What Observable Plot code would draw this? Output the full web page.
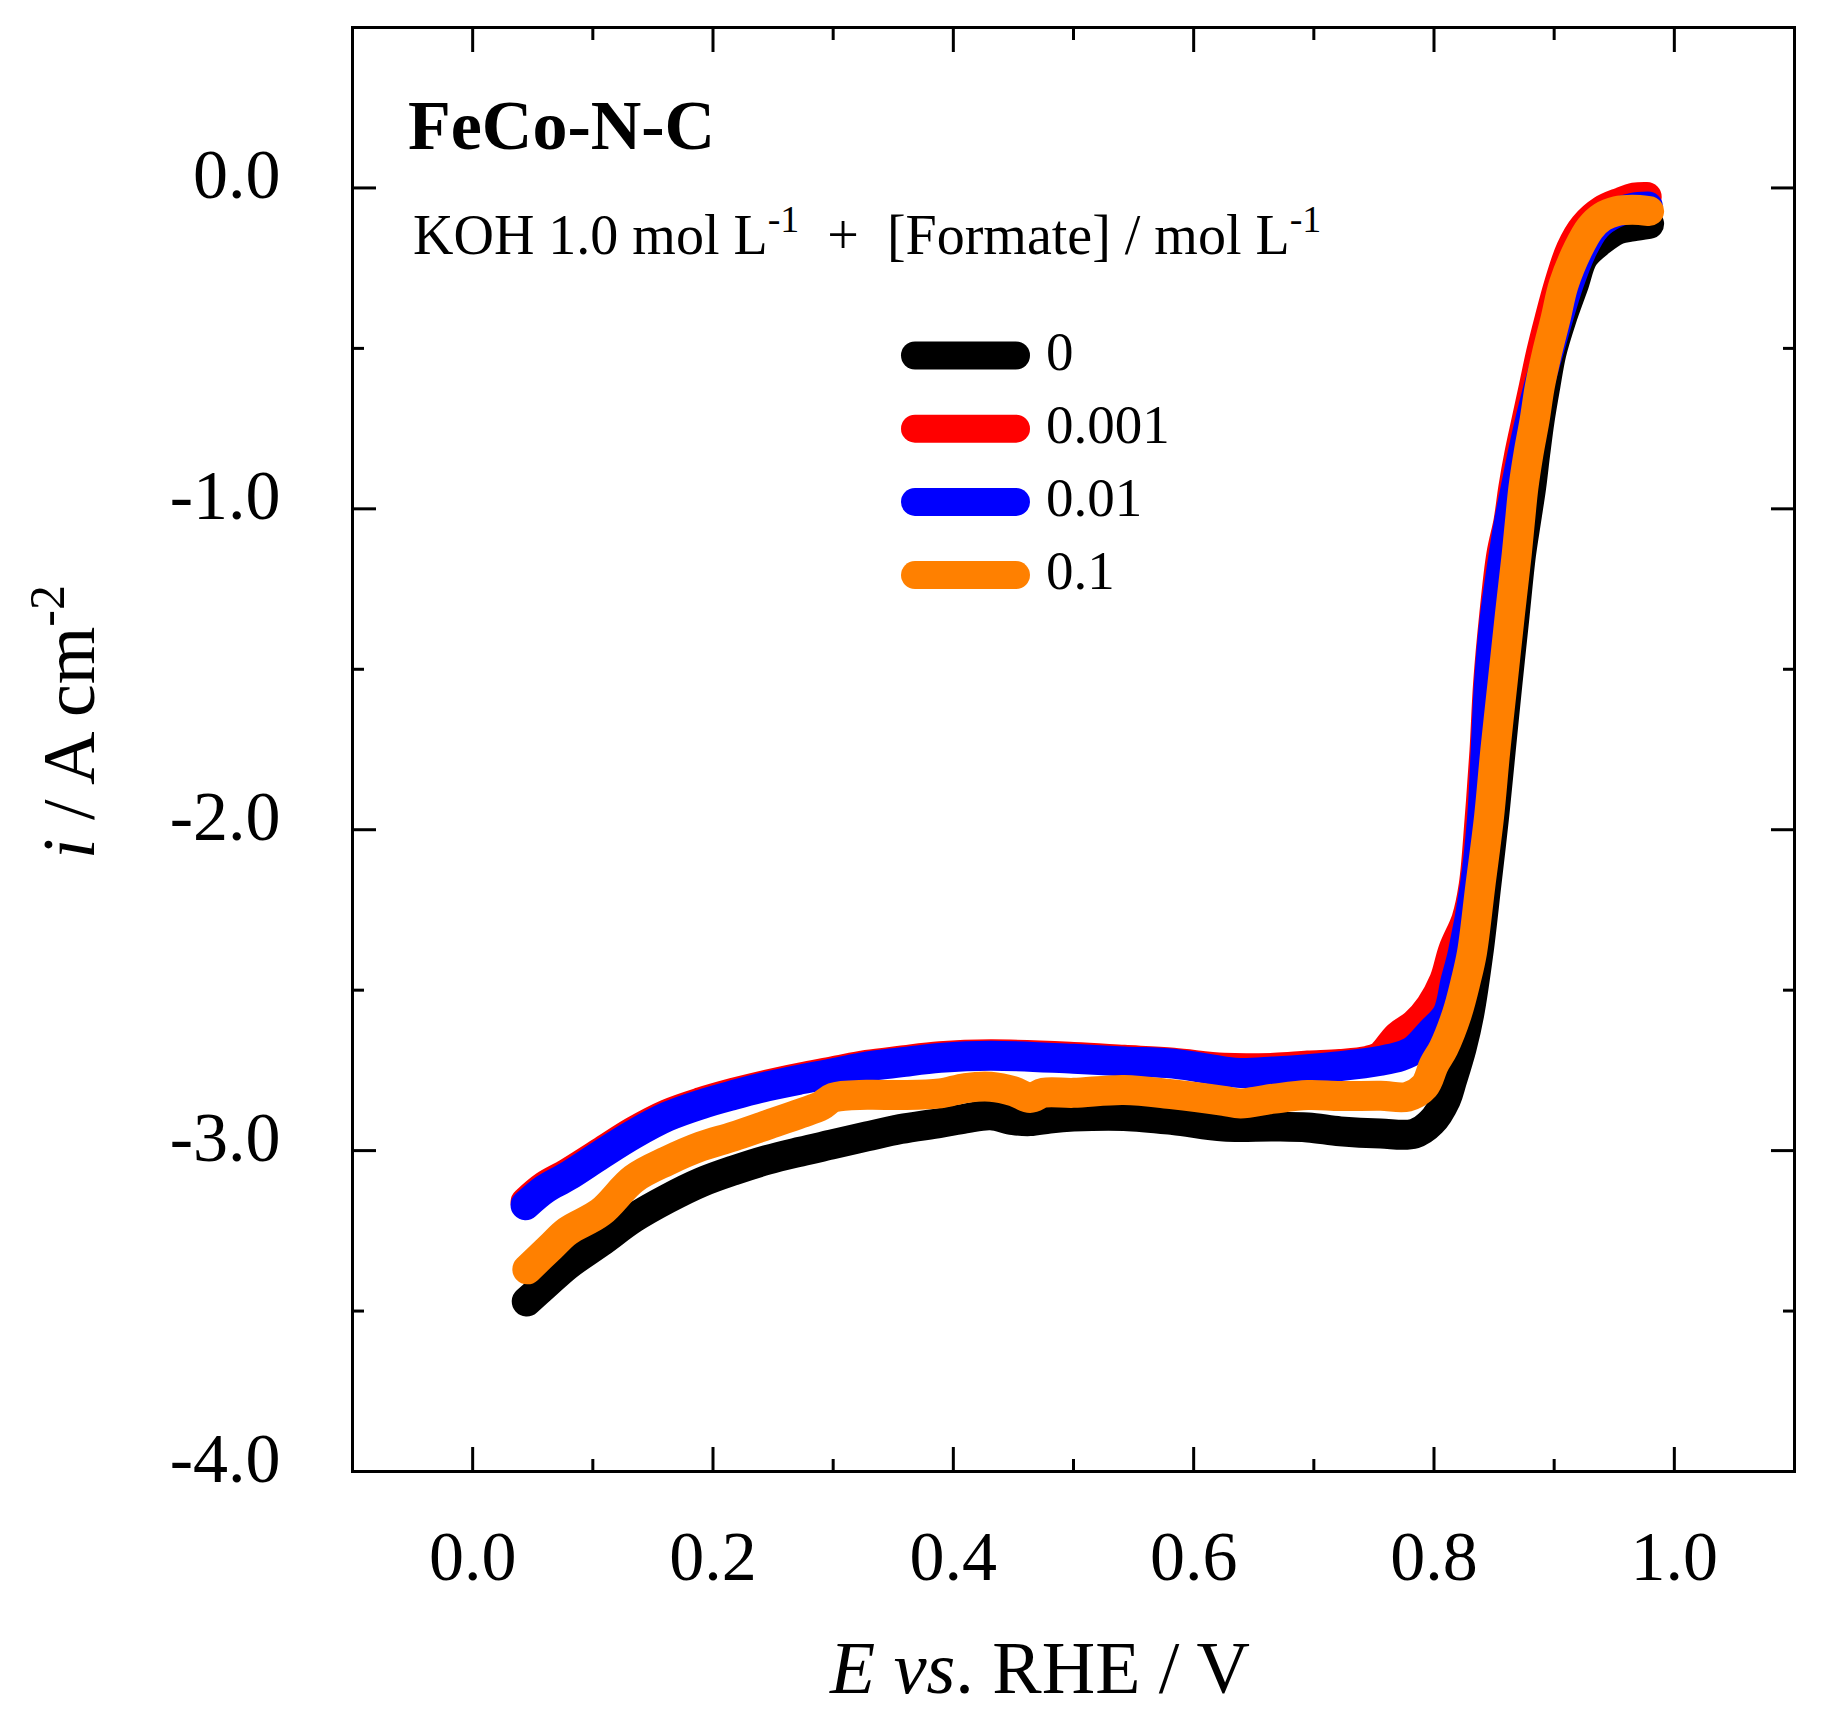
<!DOCTYPE html>
<html><head><meta charset="utf-8">
<script src="https://cdn.jsdelivr.net/npm/d3@7"></script>
<script src="https://cdn.jsdelivr.net/npm/@observablehq/plot@0.6"></script>
<style>html,body{margin:0;padding:0;background:#fff;overflow:hidden} svg{display:block}</style>
</head><body><div id="chart"></div>
<script>
// ---------- data (E / V vs RHE, i / A cm^-2) ----------
const seriesLabels = ["0", "0.001", "0.01", "0.1"];
const seriesColors = ["#000000", "#ff0000", "#0000ff", "#ff8000"];

const curve0 = [
  [0.045,-3.47],[0.06,-3.42],[0.079,-3.357],[0.1065,-3.285],[0.134,-3.21],[0.162,-3.15],
  [0.19,-3.099],[0.217,-3.062],[0.245,-3.029],[0.273,-3.003],[0.30,-2.98],[0.328,-2.956],
  [0.356,-2.933],[0.389,-2.914],[0.41,-2.90],[0.431,-2.89],[0.45,-2.905],[0.464,-2.908],
  [0.48,-2.90],[0.5,-2.894],[0.542,-2.892],[0.583,-2.905],[0.625,-2.925],[0.667,-2.925],
  [0.695,-2.928],[0.722,-2.94],[0.7556,-2.947],[0.7837,-2.947],[0.7978,-2.912],[0.81,-2.84],
  [0.8147,-2.785],[0.823,-2.68],[0.8293,-2.575],[0.837,-2.383],[0.8435,-2.174],[0.8499,-1.964],
  [0.8555,-1.754],[0.8611,-1.545],[0.867,-1.335],[0.8724,-1.143],[0.8766,-1.038],[0.8808,-0.934],
  [0.8842,-0.829],[0.8879,-0.724],[0.8926,-0.619],[0.8977,-0.515],[0.906,-0.41],[0.916,-0.305],
  [0.9245,-0.215],[0.9385,-0.165],[0.9526,-0.13],[0.965,-0.12],[0.979,-0.112]
];
const curve0001 = [
  [0.044,-3.16],[0.06,-3.11],[0.079,-3.07],[0.1065,-3.005],[0.134,-2.94],[0.162,-2.886],
  [0.19,-2.849],[0.217,-2.82],[0.245,-2.794],[0.273,-2.772],[0.30,-2.753],[0.328,-2.733],
  [0.356,-2.72],[0.389,-2.706],[0.431,-2.70],[0.5,-2.708],[0.542,-2.717],[0.583,-2.726],
  [0.625,-2.742],[0.667,-2.742],[0.695,-2.735],[0.722,-2.73],[0.745,-2.72],[0.7556,-2.705],
  [0.77,-2.643],[0.784,-2.606],[0.797,-2.55],[0.8085,-2.47],[0.816,-2.375],[0.827,-2.279],
  [0.833,-2.174],[0.838,-1.964],[0.842,-1.754],[0.845,-1.545],[0.85,-1.335],[0.856,-1.143],
  [0.862,-1.038],[0.866,-0.934],[0.871,-0.829],[0.877,-0.724],[0.883,-0.62],[0.889,-0.515],
  [0.896,-0.41],[0.904,-0.30],[0.914,-0.19],[0.925,-0.12],[0.94,-0.07],[0.955,-0.045],
  [0.967,-0.03],[0.977,-0.028]
];
const curve001 = [
  [0.044,-3.17],[0.06,-3.12],[0.079,-3.08],[0.1065,-3.013],[0.134,-2.949],[0.162,-2.894],
  [0.19,-2.856],[0.217,-2.827],[0.245,-2.80],[0.273,-2.778],[0.30,-2.759],[0.328,-2.738],
  [0.356,-2.725],[0.389,-2.711],[0.431,-2.704],[0.5,-2.714],[0.542,-2.722],[0.583,-2.729],
  [0.625,-2.753],[0.639,-2.758],[0.667,-2.753],[0.695,-2.746],[0.722,-2.737],[0.7556,-2.72],
  [0.772,-2.706],[0.7837,-2.685],[0.7978,-2.63],[0.811,-2.575],[0.818,-2.47],[0.824,-2.383],
  [0.834,-2.174],[0.840,-1.964],[0.843,-1.754],[0.8457,-1.545],[0.8507,-1.335],[0.858,-1.143],
  [0.8625,-1.038],[0.868,-0.934],[0.8737,-0.829],[0.88,-0.724],[0.887,-0.62],[0.895,-0.515],
  [0.903,-0.41],[0.912,-0.30],[0.923,-0.195],[0.935,-0.12],[0.95,-0.08],[0.965,-0.062],
  [0.978,-0.058]
];
const curve01 = [
  [0.0455,-3.37],[0.065,-3.30],[0.079,-3.251],[0.1065,-3.192],[0.134,-3.088],[0.162,-3.032],
  [0.19,-2.987],[0.217,-2.956],[0.245,-2.92],[0.273,-2.884],[0.29,-2.86],[0.30,-2.835],
  [0.328,-2.826],[0.356,-2.827],[0.389,-2.822],[0.41,-2.805],[0.431,-2.801],[0.45,-2.815],
  [0.464,-2.836],[0.475,-2.82],[0.5,-2.82],[0.542,-2.811],[0.583,-2.825],[0.625,-2.845],
  [0.639,-2.853],[0.667,-2.838],[0.695,-2.827],[0.722,-2.83],[0.7556,-2.829],[0.778,-2.832],
  [0.792,-2.80],[0.80,-2.732],[0.808,-2.68],[0.819,-2.575],[0.8265,-2.47],[0.8316,-2.383],
  [0.8386,-2.174],[0.8457,-1.964],[0.851,-1.754],[0.857,-1.545],[0.863,-1.335],[0.8688,-1.143],
  [0.8715,-1.04],[0.8744,-0.934],[0.8786,-0.829],[0.8837,-0.724],[0.888,-0.62],[0.894,-0.515],
  [0.901,-0.41],[0.908,-0.30],[0.92,-0.19],[0.93,-0.125],[0.94,-0.09],[0.952,-0.072],
  [0.965,-0.068],[0.979,-0.072]
];
const curves = [curve0, curve0001, curve001, curve01];

const xMajor = [0.0, 0.2, 0.4, 0.6, 0.8, 1.0];
const xMinor = [0.1, 0.3, 0.5, 0.7, 0.9];
const yMajor = [0.0, -1.0, -2.0, -3.0, -4.0];
const yMinor = [-0.5, -1.5, -2.5, -3.5];

const titleText = "FeCo-N-C";

// ---------- chart ----------
const FONT = "'Liberation Serif', 'Times New Roman', serif";
const fmt = d => d.toFixed(1);
const blank = () => "";

const tickAxes = [];
for (const a of ["bottom", "top"]) {
  tickAxes.push(Plot.axisX({anchor: a, ticks: xMajor, tickSize: -24, tickFormat: blank, strokeWidth: 3, label: null}));
  tickAxes.push(Plot.axisX({anchor: a, ticks: xMinor, tickSize: -12, tickFormat: blank, strokeWidth: 3, label: null}));
}
for (const a of ["left", "right"]) {
  tickAxes.push(Plot.axisY({anchor: a, ticks: yMajor, tickSize: -24, tickFormat: blank, strokeWidth: 3, label: null}));
  tickAxes.push(Plot.axisY({anchor: a, ticks: yMinor, tickSize: -12, tickFormat: blank, strokeWidth: 3, label: null}));
}

const lineMarks = curves.map((c, k) => Plot.line(c, {
  x: d => d[0], y: d => d[1], stroke: seriesColors[k], strokeWidth: 30,
  strokeLinecap: "round", strokeLinejoin: "round", curve: "catmull-rom"
}));

const plot = Plot.plot({
  width: 1826, height: 1720,
  marginLeft: 352, marginRight: 32, marginTop: 27, marginBottom: 249,
  style: {fontFamily: FONT, background: "white", color: "black"},
  x: {domain: [-0.1, 1.1]},
  y: {domain: [-4, 0.5]},
  marks: [
    ...lineMarks,
    ...tickAxes,
    Plot.axisX({anchor: "bottom", ticks: xMajor, tickSize: 0, tickPadding: 59, tickFormat: fmt, fontSize: 70, label: null}),
    Plot.axisY({anchor: "left", ticks: yMajor, tickSize: 0, tickPadding: 72, dy: -12, tickFormat: fmt, fontSize: 70, label: null}),
    Plot.frame({stroke: "black", strokeWidth: 3})
  ]
});
document.getElementById("chart").appendChild(plot);

// ---------- annotations ----------
const svg = d3.select(plot);
const g = svg.append("g").attr("font-family", FONT).attr("fill", "black").attr("text-anchor", "start");

g.append("text").attr("x", 408).attr("y", 149).attr("font-size", 70).attr("font-weight", "bold").text(titleText);

const sub = g.append("text").attr("x", 413).attr("y", 254).attr("font-size", 56).style("white-space", "pre");
sub.append("tspan").text("KOH 1.0 mol L");
sub.append("tspan").attr("font-size", 38).attr("dy", -22).text("-1");
sub.append("tspan").attr("dy", 22).text("  +  [Formate] / mol L");
sub.append("tspan").attr("font-size", 38).attr("dy", -22).text("-1");

// legend
seriesLabels.forEach((lab, k) => {
  const cy = 355.5 + k * 73.2;
  g.append("line").attr("x1", 915).attr("x2", 1016).attr("y1", cy).attr("y2", cy)
    .attr("stroke", seriesColors[k]).attr("stroke-width", 28).attr("stroke-linecap", "round");
  g.append("text").attr("x", 1046).attr("y", cy + 14).attr("font-size", 55).text(lab);
});

// x axis label
const xl = g.append("text").attr("x", 1040).attr("y", 1693).attr("font-size", 74).attr("text-anchor", "middle").style("white-space", "pre");
xl.append("tspan").attr("font-style", "italic").text("E");
xl.append("tspan").text(" ");
xl.append("tspan").attr("font-style", "italic").text("vs");
xl.append("tspan").text(". RHE / V");

// y axis label
const yl = g.append("text").attr("transform", "translate(94,722) rotate(-90)").attr("font-size", 74).attr("text-anchor", "middle").style("white-space", "pre");
yl.append("tspan").attr("font-style", "italic").text("i");
yl.append("tspan").text(" / A cm");
yl.append("tspan").attr("font-size", 50).attr("dy", -30).text("-2");
</script>
</body></html>
